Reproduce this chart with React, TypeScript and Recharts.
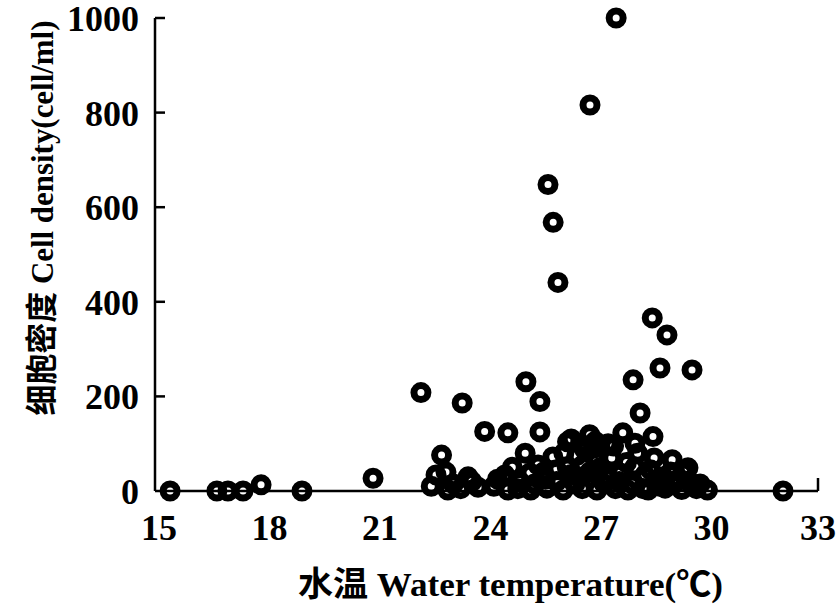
import React from "react";
import { ScatterChart, Scatter, XAxis, YAxis, Label } from "recharts";

// water temperature (°C) and cell density (cell/ml)
const temperature = [
  15.41, 16.68, 16.98, 17.39, 17.88, 18.99, 20.92,
  22.22, 22.63, 22.78, 22.95, 23.34, 23.5, 23.77, 23.95, 24.2,
  22.5, 22.9, 23.1, 23.3, 23.6,
  24.5, 24.58, 24.58, 24.85, 25.07, 25.45, 25.45, 25.05, 25.18, 25.3,
  25.55, 25.64, 25.8, 25.9, 26.2, 26.19, 26.08, 26.4, 26.45, 26.5,
  26.62, 26.67, 26.8, 26.9, 27.0, 27.0, 27.0, 27.2, 27.3, 27.4, 27.5,
  27.63, 27.7, 27.84, 28.17, 28.03, 28.52, 29.04, 29.47, 28.03, 28.3,
  28.39, 28.6, 28.85, 29.0, 29.2, 29.3, 29.6, 30.0,
  24.3, 24.7, 24.9, 25.2, 25.4, 25.6, 25.9, 26.1, 26.3, 26.6, 26.8,
  26.95, 27.1, 27.25, 27.45, 27.6, 27.8, 27.95, 28.1, 28.25, 28.45,
  28.55, 28.7, 28.8, 29.1, 29.35, 29.5, 29.7, 29.8, 26.3, 26.55,
  28.5, 28.9, 28.71, 27.98, 29.58, 32.05,
  27.52, 26.81, 25.67, 25.81, 25.94,
];
const density = [
  0, 0, 0, 0, 13, 0, 27,
  208, 34, 76, 2, 186, 30, 8, 126, 10,
  10, 40, 15, 5, 20,
  34, 123, 2, 5, 231, 189, 125, 80, 38, 15,
  40, 6, 72, 20, 104, 51, 2, 15, 75, 30,
  55, 87, 119, 90, 66, 38, 2, 15, 100, 70, 5,
  38, 123, 2, 165, 101, 115, 66, 49, 51, 34,
  2, 20, 6, 40, 25, 3, 10, 2,
  25, 50, 20, 2, 55, 25, 45, 80, 35, 5, 40,
  105, 50, 30, 95, 20, 60, 15, 80, 5, 45,
  70, 10, 30, 15, 40, 20, 5, 15, 110, 100,
  366, 330, 260, 235, 256, 0,
  1000, 816, 648, 568, 441,
];

const xTicks = [15, 18, 21, 24, 27, 30, 33];
const yTicks = [0, 200, 400, 600, 800, 1000];

const points = temperature.map((t, i) => ({ t, v: density[i] }));

const FONT = "'Liberation Serif', 'Times New Roman', 'Noto Sans CJK SC', serif";

const YTick = ({ x, y, payload }: any) => (
  <g>
    {payload.value !== 0 && (
      <line x1={x} x2={x + 10} y1={y} y2={y} stroke="#000" strokeWidth={2.5} />
    )}
    <text x={x - 16} y={y} dy="0.36em" textAnchor="end" fontFamily={FONT} fontWeight="bold" fontSize={36} fill="#000">
      {payload.value}
    </text>
  </g>
);

const XTick = ({ x, y, payload }: any) => (
  <g>
    {payload.value === 33 && (
      <line x1={x} x2={x} y1={y} y2={y - 13} stroke="#000" strokeWidth={2.5} />
    )}
    <text
      x={payload.value === 33 ? x : x + 4}
      y={y + 49}
      textAnchor="middle"
      fontFamily={FONT}
      fontWeight="bold"
      fontSize={36}
      fill="#000"
    >
      {payload.value}
    </text>
  </g>
);

const Ring = (props: any) => (
  <circle cx={props.cx} cy={props.cy} r={7} fill="none" stroke="#000" strokeWidth={7} />
);

export default function App() {
  return (
    <div style={{ position: "absolute", left: 0, top: 0, background: "#fff" }}>
      <ScatterChart width={837} height={613} margin={{ top: 18, right: 19, bottom: 82, left: 95 }}>
        <XAxis
          type="number"
          dataKey="t"
          domain={[15, 33]}
          ticks={xTicks}
          interval={0}
          tickSize={0}
          tickMargin={0}
          tickLine={false}
          height={40}
          axisLine={{ stroke: "#000", strokeWidth: 2.5 }}
          tick={<XTick />}
        >
          <Label
            content={({ viewBox }: any) => (
              <text
                x={viewBox.x + viewBox.width / 2 + 24}
                y={596}
                textAnchor="middle"
                fontFamily={FONT}
                fontWeight="bold"
                fontSize={34}
                textLength={425}
                lengthAdjust="spacingAndGlyphs"
                fill="#000"
              >
                水温 Water  temperature(℃)
              </text>
            )}
          />
        </XAxis>
        <YAxis
          type="number"
          dataKey="v"
          domain={[0, 1000]}
          ticks={yTicks}
          interval={0}
          tickSize={0}
          tickMargin={0}
          tickLine={false}
          width={60}
          axisLine={{ stroke: "#000", strokeWidth: 2.5 }}
          tick={<YTick />}
        >
          <Label
            content={() => (
              <text
                x={0}
                y={0}
                transform="translate(53, 218) rotate(-90)"
                textAnchor="middle"
                fontFamily={FONT}
                fontWeight="bold"
                fontSize={32}
                textLength={395}
                lengthAdjust="spacingAndGlyphs"
                fill="#000"
              >
                细胞密度 Cell density(cell/ml)
              </text>
            )}
          />
        </YAxis>
        <Scatter data={points} shape={<Ring />} isAnimationActive={false} />
      </ScatterChart>
    </div>
  );
}
